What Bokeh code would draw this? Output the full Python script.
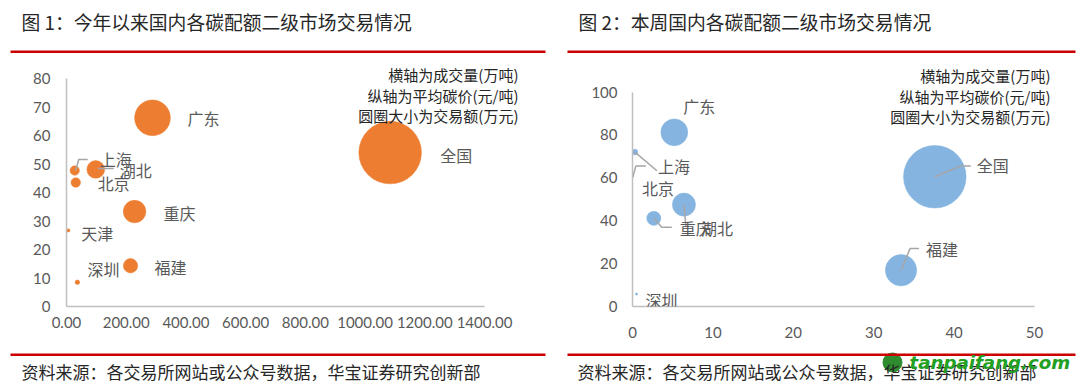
from bokeh.plotting import figure
from bokeh.layouts import row, column
from bokeh.models import (ColumnDataSource, LabelSet, Label, BoxAnnotation, FixedTicker,
                          NumeralTickFormatter, Range1d)
from bokeh.embed import file_html
from bokeh.resources import INLINE
from bokeh.core.properties import value

# ---------------- data: figure 1 (year to date) ----------------
cities_1 = ["全国", "广东", "湖北", "重庆", "福建", "上海", "北京", "天津", "深圳"]
volume_1 = [1084, 288, 98, 228, 214.5, 27.5, 31, 6, 36.5]          # 万吨
price_1 = [54.0, 66.2, 48.1, 33.3, 14.3, 47.7, 43.5, 26.7, 8.5]     # 元/吨
amount_1 = [58500, 19070, 4710, 7590, 3070, 1310, 1350, 160, 310]   # 万元
x_ticks_1 = [0, 200, 400, 600, 800, 1000, 1200, 1400]
y_ticks_1 = [0, 10, 20, 30, 40, 50, 60, 70, 80]

# ---------------- data: figure 2 (this week) ----------------
cities_2 = ["全国", "广东", "湖北", "重庆", "福建", "上海", "北京", "深圳"]
volume_2 = [37.6, 5.2, 6.4, 2.65, 33.4, 0.3, 0.05, 0.5]
price_2 = [60.5, 81.2, 47.5, 41.1, 16.9, 72.0, 60.5, 5.8]
amount_2 = [2275, 420, 310, 115, 570, 20, 1, 3]
x_ticks_2 = [0, 10, 20, 30, 40, 50]
y_ticks_2 = [0, 20, 40, 60, 80, 100]

title_1 = "图 1：今年以来国内各碳配额二级市场交易情况"
title_2 = "图 2：本周国内各碳配额二级市场交易情况"
notes = ["横轴为成交量(万吨)", "纵轴为平均碳价(元/吨)", "圆圈大小为交易额(万元)"]
source_text = "资料来源：各交易所网站或公众号数据，华宝证券研究创新部"

# ---------------- layout / style (screen px) ----------------
CJK = "Noto Sans CJK SC"
RED = "#CC0000"
ORANGE = "#ED7D31"
BLUE = "#85B4E0"
AXIS = "#BFBFBF"
TICK = "#595959"
TXT = "#262626"
LEAD = "#A6A6A6"
R_MAX = 31.3
W = 1080

# label offsets: (dx right, dy down) from bubble centre to label left/middle
off_1 = {"全国": (50, 2), "广东": (35, 0), "湖北": (24, 1), "重庆": (29, 1), "福建": (24, 1),
         "上海": (25, -12), "北京": (22, 0), "天津": (13, 3), "深圳": (10, -13)}
off_2 = {"全国": (42, -12), "广东": (9, -26), "湖北": (17, 23), "重庆": (26, 10), "福建": (25, -21),
         "上海": (23, 14), "北京": (9, 11), "深圳": (9, 6)}
# leader polylines, px offsets from bubble centre
lead_1 = {"上海": [(1, 0), (4, -11), (13, -11)], "湖北": [(2, -1), (18, -1)]}
lead_2 = {"上海": [(0, 0), (22, 19)], "北京": [(0, 0), (3, -11), (13, -11)],
          "湖北": [(0, 0), (2, 23)], "重庆": [(0, 0), (8, 9), (18, 9)],
          "全国": [(0, 0), (26, -11), (36, -11)], "福建": [(0, 0), (9, -22), (18, -22)]}


def blank(width, height):
    """A figure whose frame is the whole canvas, data units = canvas pixels."""
    f = figure(width=width, height=height, output_backend="svg", toolbar_location=None,
               x_range=Range1d(0, width), y_range=Range1d(height, 0),
               x_axis_location=None, y_axis_location=None,
               min_border=0, min_border_left=0, min_border_right=0,
               min_border_top=0, min_border_bottom=0,
               background_fill_color="white", border_fill_color="white")
    f.outline_line_color = None
    f.grid.visible = False
    return f


def red_rule(f, x0, x1, y0):
    f.add_layout(BoxAnnotation(left=x0, right=x1, top=y0, bottom=y0 + 2.5,
                               fill_color=RED, fill_alpha=1.0, line_color=None))


def make_panel(cities, xs, ys, amts, xticks, yticks, fmt, color, offs, leads,
               width, height, fl, ft, ax_w, ax_h, fh, note_x, note_y0, x_stand, y_stand):
    x_end = xticks[-1] * (width - fl) / ax_w
    y_end = yticks[-1] * fh / ax_h
    p = figure(width=width, height=height, output_backend="svg", toolbar_location=None,
               x_range=Range1d(xticks[0], x_end), y_range=Range1d(yticks[0], y_end),
               min_border_left=fl, min_border_right=0,
               min_border_top=ft, min_border_bottom=height - ft - fh,
               background_fill_color="white", border_fill_color="white")
    p.outline_line_color = None
    p.grid.visible = False
    for ax in (p.xaxis, p.yaxis):
        ax.axis_line_color = AXIS
        ax.axis_line_width = 1.5
        ax.major_tick_line_color = None
        ax.minor_tick_line_color = None
        ax.major_tick_out = 0
        ax.major_tick_in = 0
        ax.minor_tick_out = 0
        ax.major_label_text_color = TICK
        ax.major_label_text_font = "Lato"
        ax.major_label_text_font_size = "15px"
    p.xaxis.bounds = (xticks[0], xticks[-1])
    p.yaxis.bounds = (yticks[0], yticks[-1])
    p.xaxis.ticker = FixedTicker(ticks=xticks)
    p.yaxis.ticker = FixedTicker(ticks=yticks)
    p.xaxis.formatter = NumeralTickFormatter(format=fmt)
    p.xaxis.major_label_standoff = x_stand
    p.yaxis.major_label_standoff = y_stand

    amax = max(amts)
    sizes = [2 * R_MAX * (a / amax) ** 0.5 for a in amts]
    src = ColumnDataSource(dict(x=xs, y=ys, size=sizes, name=cities,
                                dx=[offs[c][0] for c in cities],
                                dy=[-offs[c][1] for c in cities]))
    p.scatter("x", "y", size="size", source=src, fill_color=color, line_color=color,
              line_width=0.5)

    sx = ax_w / (xticks[-1] - xticks[0])
    sy = ax_h / (yticks[-1] - yticks[0])
    lx, ly = [], []
    for c, pts in leads.items():
        i = cities.index(c)
        lx.append([xs[i] + dx / sx for dx, dy in pts])
        ly.append([ys[i] - dy / sy for dx, dy in pts])
    p.multi_line(lx, ly, line_color=LEAD, line_width=1.5)

    p.add_layout(LabelSet(x="x", y="y", text="name", source=src, x_offset="dx", y_offset="dy",
                          text_font=value(CJK), text_font_size="16px", text_color=TICK,
                          text_align="left", text_baseline="middle"))
    for k, t in enumerate(notes):
        p.add_layout(Label(x=note_x, y=note_y0 + 20.5 * k, x_units="canvas", y_units="canvas",
                           text=t, text_font=CJK, text_font_size="15px",
                           text_color=TXT, text_align="right", text_baseline="middle"))
    return p


# header: titles + red rules (page y 0..54)
head = blank(W, 54)
for tx, t in ((21, title_1), (578, title_2)):
    head.add_layout(Label(x=tx, y=21, text=t, text_font=CJK, text_font_size="18.8px",
                          text_color=TXT, text_baseline="middle", text_align="left"))
red_rule(head, 10, 545, 50)
red_rule(head, 567, 1075, 50)

# bubble panels (page y 54..344)
p1 = make_panel(cities_1, volume_1, price_1, amount_1, x_ticks_1, y_ticks_1, "0.00", ORANGE,
                off_1, lead_1, width=556, height=290, fl=66, ft=8, ax_w=418, ax_h=228, fh=244,
                note_x=518, note_y0=20, x_stand=10, y_stand=16)
p2 = make_panel(cities_2, volume_2, price_2, amount_2, x_ticks_2, y_ticks_2, "0", BLUE,
                off_2, lead_2, width=524, height=290, fl=76, ft=8, ax_w=402, ax_h=218, fh=248,
                note_x=494, note_y0=21, x_stand=20, y_stand=15)

# footer: red rules + source + watermark (page y 344..384)
foot = blank(W, 40)
red_rule(foot, 10, 545, 9)
red_rule(foot, 567, 1075, 9)
for tx in (21, 577):
    foot.add_layout(Label(x=tx, y=26.5, text=source_text, text_font=CJK, text_font_size="17px",
                          text_color=TXT, text_baseline="middle", text_align="left"))
foot.circle(x=892, y=18, radius=9.5, fill_color="#2E8B2E", line_color="#2E8B2E")
foot.add_layout(Label(x=909, y=18, text="tanpaifang.com", text_font="DejaVu Sans",
                      text_font_size="18.2px", text_color="#22A022",
                      text_font_style="bold italic", text_align="left", text_baseline="middle"))

layout = column(head, row(p1, p2, spacing=0), foot, spacing=0)
open("out.html", "w").write(file_html(layout, INLINE))
